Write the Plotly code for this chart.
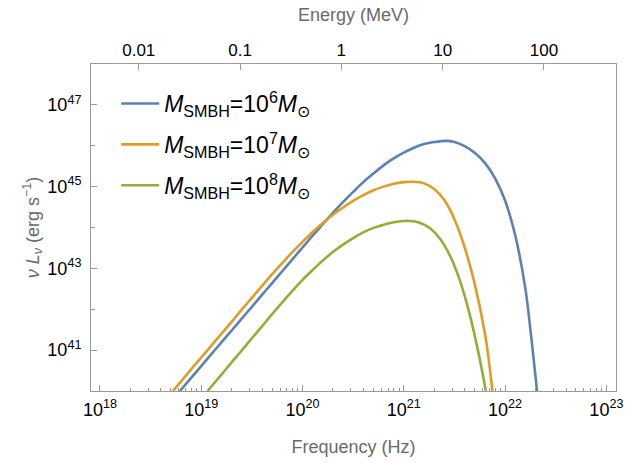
import plotly.graph_objects as go
from math import log10

# ---- values (log10 of frequency in Hz, log10 of nuL_nu in erg/s) ----
log_nu_m6 = [18.79, 18.9, 19.0, 19.1, 19.2, 19.3, 19.4, 19.5, 19.6, 19.7, 19.8, 19.9, 20.0,
             20.1, 20.2, 20.3, 20.4, 20.5, 20.6, 20.7, 20.8, 20.9, 21.0, 21.1, 21.2, 21.3,
             21.42, 21.5, 21.6, 21.7, 21.8, 21.9, 22.0, 22.1, 22.2, 22.25, 22.3, 22.315]
log_L_m6 = [40.00, 40.32, 40.61, 40.90, 41.19, 41.48, 41.77, 42.06, 42.35, 42.64, 42.93, 43.22, 43.51,
            43.80, 44.08, 44.36, 44.62, 44.87, 45.11, 45.32, 45.52, 45.69, 45.83, 45.95, 46.04, 46.09,
            46.12, 46.09, 45.99, 45.83, 45.58, 45.21, 44.66, 43.81, 42.51, 41.50, 40.36, 40.00]

log_nu_m7 = [18.72, 18.8, 18.9, 19.0, 19.1, 19.2, 19.3, 19.4, 19.5, 19.6, 19.7, 19.8, 19.9, 20.0,
             20.1, 20.2, 20.3, 20.4, 20.5, 20.6, 20.7, 20.8, 20.9, 21.0, 21.09, 21.2, 21.3, 21.4,
             21.5, 21.6, 21.7, 21.8, 21.84, 21.875]
log_L_m7 = [40.00, 40.23, 40.53, 40.82, 41.11, 41.40, 41.69, 41.99, 42.28, 42.57, 42.86, 43.13, 43.40, 43.65,
            43.89, 44.11, 44.31, 44.49, 44.65, 44.79, 44.91, 45.00, 45.07, 45.11, 45.12, 45.08, 44.94, 44.67,
            44.20, 43.52, 42.62, 41.42, 40.74, 40.00]

log_nu_m8 = [19.063, 19.1, 19.2, 19.3, 19.4, 19.5, 19.6, 19.7, 19.8, 19.9, 20.0, 20.1, 20.2, 20.3,
             20.4, 20.5, 20.6, 20.7, 20.8, 20.9, 21.0, 21.05, 21.15, 21.25, 21.35, 21.45, 21.55,
             21.65, 21.75, 21.81]
log_L_m8 = [40.00, 40.11, 40.40, 40.70, 40.99, 41.29, 41.58, 41.88, 42.17, 42.45, 42.72, 42.96, 43.19, 43.40,
            43.58, 43.74, 43.88, 43.99, 44.07, 44.13, 44.16, 44.16, 44.125, 44.00, 43.75, 43.34, 42.73,
            41.88, 40.78, 40.00]

series_names = [
    "<i>M</i><sub>SMBH</sub>=10<sup>6</sup><i>M</i><sub>⊙</sub>",
    "<i>M</i><sub>SMBH</sub>=10<sup>7</sup><i>M</i><sub>⊙</sub>",
    "<i>M</i><sub>SMBH</sub>=10<sup>8</sup><i>M</i><sub>⊙</sub>",
]
series_colors = ["#5E81B5", "#E19C24", "#8FB032"]

freq_ticks = [1e18, 1e19, 1e20, 1e21, 1e22, 1e23]
freq_ticktext = ["10<sup>18</sup>", "10<sup>19</sup>", "10<sup>20</sup>",
                 "10<sup>21</sup>", "10<sup>22</sup>", "10<sup>23</sup>"]
lum_ticks = [1e41, 1e43, 1e45, 1e47]
lum_ticktext = ["10<sup>41</sup>", "10<sup>43</sup>", "10<sup>45</sup>", "10<sup>47</sup>"]
lum_minor = [1e42, 1e44, 1e46]
energy_ticks = [0.01, 0.1, 1, 10, 100]
energy_ticktext = ["0.01", "0.1", "1", "10", "100"]

HZ_PER_MEV = 2.418e20
freq_range_log = [17.912, 23.095]

freq_minor = [float(m) * 10.0 ** d for d in range(18, 23) for m in range(2, 10)]

FONT = "Liberation Sans, Arial, sans-serif"
GRAY = "#9a9a9a"
TITLE_GRAY = "#6a6a6a"

fig = go.Figure()
for lx, ly, nm, col, grp in [
    (log_nu_m6, log_L_m6, series_names[0], series_colors[0], "a"),
    (log_nu_m7, log_L_m7, series_names[1], series_colors[1], "b"),
    (log_nu_m8, log_L_m8, series_names[2], series_colors[2], "c"),
]:
    fig.add_trace(go.Scatter(
        x=[10.0 ** v for v in lx], y=[10.0 ** v for v in ly],
        mode="lines", name=nm, legendgroup=grp,
        line=dict(color=col, width=2.6, shape="spline", smoothing=1.0),
    ))

# invisible trace to activate the top energy axis
fig.add_trace(go.Scatter(x=energy_ticks, y=[None] * len(energy_ticks), xaxis="x2",
                         mode="lines", showlegend=False, hoverinfo="skip"))

e_range = [freq_range_log[0] - log10(HZ_PER_MEV), freq_range_log[1] - log10(HZ_PER_MEV)]

fig.update_layout(
    width=632, height=462,
    margin=dict(l=91, r=9, t=64, b=67),
    paper_bgcolor="white", plot_bgcolor="white",
    font=dict(family=FONT, color="#000"),
    showlegend=True,
    legend=dict(x=0.048, y=0.945, xanchor="left", yanchor="top",
                font=dict(size=23, family=FONT, color="#000"),
                bgcolor="rgba(0,0,0,0)", tracegroupgap=8, itemwidth=38),
    xaxis=dict(type="log", range=freq_range_log, tickmode="array",
               tickvals=freq_ticks, ticktext=freq_ticktext,
               ticks="inside", ticklen=6, tickcolor=GRAY, tickwidth=1,
               showline=True, linecolor=GRAY, linewidth=1, mirror=False,
               showgrid=False, zeroline=False, ticklabelstandoff=2,
               tickfont=dict(size=18, family=FONT, color="#000"),
               minor=dict(tickvals=freq_minor, ticks="inside", ticklen=3.5,
                          tickcolor=GRAY, showgrid=False),
               title=dict(text="Frequency (Hz)", font=dict(size=18, color=TITLE_GRAY, family=FONT),
                          standoff=21)),
    xaxis2=dict(type="log", range=e_range, overlaying="x", side="top",
                tickmode="array", tickvals=energy_ticks, ticktext=energy_ticktext,
                ticks="inside", ticklen=6, tickcolor=GRAY,
                showline=True, linecolor=GRAY, linewidth=1,
                showgrid=False, zeroline=False,
                tickfont=dict(size=17, family=FONT, color="#000"),
                title=dict(text="Energy (MeV)", font=dict(size=18, color=TITLE_GRAY, family=FONT),
                           standoff=14)),
    yaxis=dict(type="log", range=[40, 48], tickmode="array",
               tickvals=lum_ticks, ticktext=lum_ticktext,
               ticks="inside", ticklen=6, tickcolor=GRAY,
               showline=True, linecolor=GRAY, linewidth=1, mirror=True,
               showgrid=False, zeroline=False, ticklabelstandoff=5,
               tickfont=dict(size=18, family=FONT, color="#000"),
               minor=dict(tickvals=lum_minor, ticks="inside", ticklen=4,
                          tickcolor=GRAY, showgrid=False),
               title=dict(text="<i>ν</i> <i>L</i><sub><i>ν</i></sub> (erg s<sup>−1</sup>)",
                          font=dict(size=18, color=TITLE_GRAY, family=FONT),
                          standoff=3)),
)

fig.write_html("out.html")
